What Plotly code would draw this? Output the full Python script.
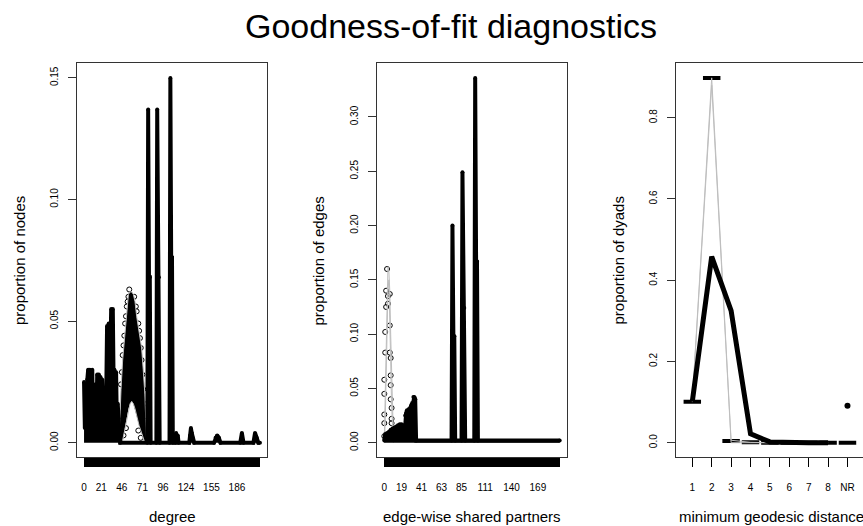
import plotly.graph_objects as go

W, H = 863, 526

# ---------------- data ----------------
# Panel 1: degree
deg_max = 214
deg_tick_labels = [0, 21, 46, 71, 96, 124, 155, 186]
obs_deg_x = list(range(0, 45)) + [77, 78, 79, 80, 81, 88, 89, 90, 91, 92,
                                  104, 105, 106, 107, 108, 111, 112, 113, 114, 115,
                                  128, 129, 130, 131, 132, 134, 158, 160, 162, 164, 166,
                                  190, 192, 194, 206, 208, 210, 212, 214]
obs_deg_y = [0.025, 0.006, 0.022, 0.010, 0.026, 0.030, 0.008, 0.030, 0.012, 0.029,
             0.030, 0.005, 0.020, 0.008, 0.024, 0.004, 0.028, 0.011, 0.028, 0.006,
             0.027, 0.013, 0.026, 0.015, 0.004, 0.014, 0.009, 0.020, 0.048, 0.012,
             0.049, 0.016, 0.040, 0.055, 0.020, 0.055, 0.024, 0.030, 0.009, 0.029,
             0.006, 0.016, 0.010, 0.002, 0.0,
             0.0, 0.137, 0.068, 0.068, 0.0, 0.0, 0.137, 0.069, 0.068, 0.0,
             0.0, 0.150, 0.076, 0.076, 0.0, 0.0, 0.004, 0.002, 0.003, 0.0,
             0.0, 0.003, 0.006, 0.004, 0.002, 0.0, 0.0, 0.002, 0.003, 0.002, 0.0,
             0.0, 0.004, 0.0, 0.0, 0.004, 0.002, 0.0, 0.0]
bell_deg_x = [43, 44, 45, 47, 50, 52, 54, 56, 58, 60, 62, 64, 67, 70, 72, 74, 75, 76]
bell_deg_hi = [0.004, 0.016, 0.022, 0.034, 0.047, 0.055, 0.061, 0.062, 0.062, 0.061,
               0.058, 0.052, 0.045, 0.039, 0.030, 0.020, 0.010, 0.0015]
bell_deg_lo = [0.0, 0.0, 0.0, 0.001, 0.006, 0.010, 0.014, 0.016, 0.017, 0.016,
               0.014, 0.011, 0.007, 0.004, 0.002, 0.0, 0.0, 0.0]
circ_deg_x = [44, 45, 46, 47, 48, 49, 50, 51, 52, 53, 54, 55, 61, 63, 64, 66, 67, 68,
              69, 70, 71, 72, 73, 74, 48, 51, 66, 69]
circ_deg_y = [0.012, 0.024, 0.029, 0.036, 0.040, 0.044, 0.049, 0.052, 0.056, 0.058,
              0.060, 0.063, 0.060, 0.056, 0.054, 0.049, 0.046, 0.043, 0.039, 0.034,
              0.028, 0.022, 0.016, 0.009, 0.003, 0.006, 0.005, 0.002]
deg_yticks = [0.0, 0.05, 0.10, 0.15]
deg_ylabels = ["0.00", "0.05", "0.10", "0.15"]

# Panel 2: edge-wise shared partners
esp_max = 193
esp_tick_labels = [0, 19, 41, 63, 85, 111, 140, 169]
obs_esp_x = list(range(0, 36)) + [74, 75, 76, 77, 78, 85, 86, 87, 88, 89,
                                  99, 100, 101, 102, 103, 193]
obs_esp_y = [0.002, 0.008, 0.004, 0.009, 0.006, 0.010, 0.007, 0.012, 0.008, 0.013,
             0.009, 0.014, 0.010, 0.015, 0.012, 0.016, 0.013, 0.017, 0.015, 0.017,
             0.014, 0.016, 0.004, 0.025, 0.027, 0.030, 0.028, 0.031, 0.030, 0.033,
             0.035, 0.034, 0.042, 0.042, 0.040, 0.002,
             0.002, 0.200, 0.099, 0.098, 0.002, 0.002, 0.249, 0.125, 0.124, 0.002,
             0.002, 0.336, 0.168, 0.167, 0.002, 0.002]
esp_q_x = [0, 1, 2, 3, 4, 5, 6, 7, 8, 9, 10]
esp_q_hi = [0.004, 0.045, 0.100, 0.150, 0.162, 0.158, 0.140, 0.100, 0.060, 0.025, 0.004]
esp_q_lo = [0.000, 0.020, 0.060, 0.110, 0.140, 0.150, 0.120, 0.075, 0.035, 0.010, 0.000]
circ_esp_x = [0, 0, 0, 0, 0, 1, 1, 2, 2, 3, 4, 4, 6, 6, 6, 7, 7, 7, 7, 8, 8, 8, 9]
circ_esp_y = [0.006, 0.018, 0.026, 0.045, 0.058, 0.083, 0.102, 0.125, 0.140, 0.160,
              0.135, 0.128, 0.137, 0.108, 0.083, 0.078, 0.062, 0.053, 0.040, 0.032,
              0.022, 0.018, 0.010]
esp_yticks = [0.0, 0.05, 0.10, 0.15, 0.20, 0.25, 0.30]
esp_ylabels = ["0.00", "0.05", "0.10", "0.15", "0.20", "0.25", "0.30"]

# Panel 3: minimum geodesic distance
dist_labels = ["1", "2", "3", "4", "5", "6", "7", "8", "NR"]
obs_dist = [0.101, 0.458, 0.325, 0.022, 0.002, 0.0, 0.0, 0.0]
obs_nr = 0.091
sim_dist_box = [0.101, 0.898, 0.004, 0.001, 0.0, 0.0, 0.0, 0.0, 0.0]
gray_dist_lo = [0.100, 0.880, 0.000, 0.000, 0.0, 0.0, 0.0, 0.0]
gray_dist_hi = [0.104, 0.898, 0.006, 0.001, 0.0, 0.0, 0.0, 0.0]
dist_yticks = [0.0, 0.2, 0.4, 0.6, 0.8]
dist_ylabels = ["0.0", "0.2", "0.4", "0.6", "0.8"]

# ---------------- figure ----------------
FONT = "Liberation Sans, Arial, sans-serif"
GRAY = "#BEBEBE"


def px_x(p):
    return p / W


def px_y(p):
    return 1 - p / H


fig = go.Figure()

# panel 1
fig.add_trace(go.Scatter(x=bell_deg_x + bell_deg_x[::-1], y=bell_deg_hi + bell_deg_lo[::-1],
                         fill="toself", fillcolor="black", line=dict(width=0),
                         mode="lines", xaxis="x", yaxis="y", hoverinfo="skip"))
fig.add_trace(go.Scatter(x=circ_deg_x, y=circ_deg_y, mode="markers",
                         marker=dict(symbol="circle-open", size=5, color="black",
                                     line=dict(width=1)), xaxis="x", yaxis="y"))
fig.add_trace(go.Scatter(x=bell_deg_x, y=bell_deg_hi, mode="lines",
                         line=dict(color=GRAY, width=1), xaxis="x", yaxis="y"))
fig.add_trace(go.Scatter(x=bell_deg_x, y=bell_deg_lo, mode="lines",
                         line=dict(color=GRAY, width=1), xaxis="x", yaxis="y"))
fig.add_trace(go.Scatter(x=obs_deg_x, y=obs_deg_y, mode="lines+markers", fill="tozeroy",
                         fillcolor="black", line=dict(color="black", width=4),
                         marker=dict(size=4, color="black"), xaxis="x", yaxis="y"))

# panel 2
fig.add_trace(go.Scatter(x=circ_esp_x, y=circ_esp_y, mode="markers",
                         marker=dict(symbol="circle-open", size=5, color="black",
                                     line=dict(width=1)), xaxis="x2", yaxis="y2"))
fig.add_trace(go.Scatter(x=esp_q_x, y=esp_q_hi, mode="lines",
                         line=dict(color=GRAY, width=1), xaxis="x2", yaxis="y2"))
fig.add_trace(go.Scatter(x=esp_q_x, y=esp_q_lo, mode="lines",
                         line=dict(color=GRAY, width=1), xaxis="x2", yaxis="y2"))
fig.add_trace(go.Scatter(x=obs_esp_x, y=obs_esp_y, mode="lines+markers", fill="tozeroy",
                         fillcolor="black", line=dict(color="black", width=4),
                         marker=dict(size=4, color="black"), xaxis="x2", yaxis="y2"))

# panel 3
cat_pos = list(range(1, len(dist_labels) + 1))
bx, by = [], []
for c, v in zip(cat_pos, sim_dist_box):
    bx += [c - 0.45, c + 0.45, None]
    by += [v, v, None]
fig.add_trace(go.Scatter(x=bx, y=by, mode="lines", line=dict(color="black", width=4),
                         xaxis="x3", yaxis="y3"))
fig.add_trace(go.Scatter(x=cat_pos[:8], y=gray_dist_lo, mode="lines",
                         line=dict(color=GRAY, width=1), xaxis="x3", yaxis="y3"))
fig.add_trace(go.Scatter(x=cat_pos[:8], y=gray_dist_hi, mode="lines",
                         line=dict(color=GRAY, width=1), xaxis="x3", yaxis="y3"))
fig.add_trace(go.Scatter(x=cat_pos[:8], y=obs_dist, mode="lines",
                         line=dict(color="black", width=5), xaxis="x3", yaxis="y3"))
fig.add_trace(go.Scatter(x=[cat_pos[8]], y=[obs_nr], mode="markers",
                         marker=dict(size=6, color="black"), xaxis="x3", yaxis="y3"))

ydom = [px_y(457.3), px_y(63.3)]
tickfont = dict(family=FONT, size=10, color="black")

common_x = dict(showline=True, linecolor="#333", linewidth=1, mirror=True,
                ticks="outside", ticklen=9, tickwidth=1, tickcolor="black",
                showgrid=False, zeroline=False, tickfont=tickfont, automargin=False,
                ticklabelstandoff=12, tickmode="array")
common_y = dict(showline=True, linecolor="#333", linewidth=1, automargin=False,
                ticks="outside", ticklen=8, tickwidth=1, tickcolor="#333",
                showgrid=False, zeroline=False, tickfont=tickfont, tickangle=-90,
                ticklabelstandoff=6, tickmode="array")


def r_range(lo, hi):
    d = (hi - lo) * 0.04
    return [lo - d, hi + d]


deg_all = list(range(0, deg_max + 1))
esp_all = list(range(0, esp_max + 1))

fig.update_layout(
    width=W, height=H, margin=dict(l=0, r=0, t=0, b=0, pad=0),
    paper_bgcolor="white", plot_bgcolor="white", showlegend=False,
    xaxis=dict(domain=[px_x(77), px_x(267)], range=r_range(0, deg_max),
               tickvals=deg_all,
               ticktext=[str(d) if d in deg_tick_labels else "" for d in deg_all],
               **common_x),
    yaxis=dict(domain=ydom, range=r_range(0, 0.15), tickvals=deg_yticks,
               ticktext=deg_ylabels, mirror=True, **common_y),
    xaxis2=dict(domain=[px_x(377.3), px_x(566.7)], range=r_range(0, esp_max),
                tickvals=esp_all,
                ticktext=[str(d) if d in esp_tick_labels else "" for d in esp_all],
                **common_x),
    yaxis2=dict(domain=ydom, range=r_range(0, 0.336), tickvals=esp_yticks,
                ticktext=esp_ylabels, mirror=True, anchor="x2", **common_y),
    xaxis3=dict(domain=[px_x(675.7), 1.0], range=[0.144, 9.80],
                tickvals=cat_pos, ticktext=dist_labels, **common_x),
    yaxis3=dict(domain=ydom, range=r_range(0, 0.898), tickvals=dist_yticks,
                ticktext=dist_ylabels, mirror=False, anchor="x3", **common_y),
)
fig.layout.xaxis2.anchor = "y2"
fig.layout.xaxis3.anchor = "y3"

annos = [
    dict(text="Goodness-of-fit diagnostics", x=px_x(451), y=px_y(26), size=34, angle=0),
    dict(text="degree", x=px_x(172), y=px_y(516), size=15, angle=0),
    dict(text="edge-wise shared partners", x=px_x(472), y=px_y(516), size=15, angle=0),
    dict(text="minimum geodesic distance", x=px_x(771), y=px_y(516), size=15, angle=0),
    dict(text="proportion of nodes", x=px_x(19), y=px_y(261), size=15, angle=-90),
    dict(text="proportion of edges", x=px_x(317.5), y=px_y(261), size=15, angle=-90),
    dict(text="proportion of dyads", x=px_x(617.5), y=px_y(261), size=15, angle=-90),
]
for a in annos:
    fig.add_annotation(text=a["text"], x=a["x"], y=a["y"], xref="paper", yref="paper",
                       showarrow=False, xanchor="center", yanchor="middle",
                       textangle=a["angle"],
                       font=dict(family=FONT, size=a["size"], color="black"))

fig.write_html("out.html", config={"displayModeBar": False},
               post_script="document.body.style.margin='0px';"
                           "document.body.style.overflow='hidden';")
